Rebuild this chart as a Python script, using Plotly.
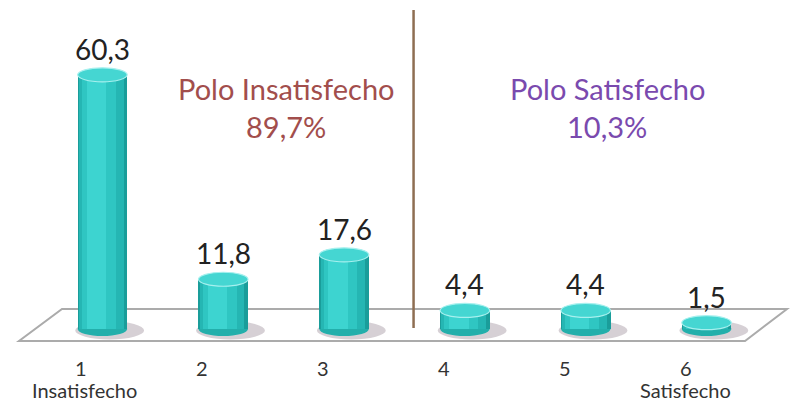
import plotly.graph_objects as go

categories = [1, 2, 3, 4, 5, 6]
values = [60.3, 11.8, 17.6, 4.4, 4.4, 1.5]
tick_labels = ["1", "2", "3", "4", "5", "6"]
extreme_labels = {1: "Insatisfecho", 6: "Satisfecho"}
pole_titles = ["Polo Insatisfecho", "Polo Satisfecho"]
pole_values = ["89,7%", "10,3%"]
divider_x = 3.575

FONT = "Lato"
W_PX, H_PX = 792, 404
L, R, T, B = 42, 25, 10, 41
PW = W_PX - L - R
PH = H_PX - T - B
Y_RANGE = [-8.07, 75.68]
ky = PH / (Y_RANGE[1] - Y_RANGE[0])  # px per unit


def px_x(px):
    return (px - L) / PW


def px_y(py):
    return (H_PX - B - py) / PH


bw = 0.41
eh = 7 / ky  # ellipse half-height in data units

fig = go.Figure()

layers = [
    (bw, 0.0, "#1A9D9A"),
    (0.37, -0.01, "#25B6B3"),
    (0.28, -0.03, "#2FC6C2"),
    (0.16, -0.05, "#3DD4D0"),
]
for w, s, c in layers:
    fig.add_trace(go.Bar(
        x=categories, y=values, width=[w] * len(values), offset=[s - w / 2] * len(values),
        marker=dict(color=c, line=dict(width=0)), hoverinfo="skip", showlegend=False,
    ))

shapes = []
# floor
fx = [62, 787, 745, 19]
fy = [309, 309, 341, 341]
path = "M " + " L ".join(f"{px_x(a):.4f},{px_y(b):.4f}" for a, b in zip(fx, fy)) + " Z"
shapes.append(dict(type="path", xref="paper", yref="paper", path=path,
                   fillcolor="#FFFFFF", line=dict(color="#ABABAB", width=2), layer="below"))

for x, v in zip(categories, values):
    # shadow
    shapes.append(dict(type="circle", xref="x", yref="y", layer="below",
                       x0=x - bw / 2 - 0.02, x1=x + bw / 2 + 0.14, y0=-eh * 1.5, y1=eh * 1.1,
                       fillcolor="rgba(120,100,115,0.30)", line=dict(width=0)))
    # bottom ellipse
    shapes.append(dict(type="circle", xref="x", yref="y", layer="below",
                       x0=x - bw / 2, x1=x + bw / 2, y0=-eh, y1=eh,
                       fillcolor="#23AFAB", line=dict(width=0)))
    # top ellipse
    shapes.append(dict(type="circle", xref="x", yref="y", layer="above",
                       x0=x - bw / 2, x1=x + bw / 2, y0=v - eh, y1=v + eh,
                       fillcolor="#45D6D2", line=dict(color="#A6F0EE", width=1.2)))

# divider
shapes.append(dict(type="line", xref="x", yref="paper", x0=divider_x, x1=divider_x,
                   y0=px_y(328), y1=px_y(10), line=dict(color="#8E6E52", width=2.5)))

annotations = []
for x, v in zip(categories, values):
    annotations.append(dict(x=x, y=v, xref="x", yref="y", yshift=26, showarrow=False,
                            text=f"{v:.1f}".replace(".", ","), yanchor="middle",
                            xanchor="center",
                            font=dict(family=FONT, size=28, color="#222222")))
for x, t in zip(categories, tick_labels):
    annotations.append(dict(x=x, y=px_y(368), xref="x", yref="paper", xshift=-21,
                            showarrow=False, text=t, yanchor="middle", xanchor="center",
                            font=dict(family=FONT, size=20, color="#333333")))
for x, t in extreme_labels.items():
    annotations.append(dict(x=x, y=px_y(390), xref="x", yref="paper",
                            xshift=-18 if x == 1 else -21,
                            showarrow=False, text=t, yanchor="middle", xanchor="center",
                            font=dict(family=FONT, size=20, color="#333333")))

pole_colors = ["#A24E4C", "#7A4AAE"]
pole_x = [286, 607]
for t, p, c, xx in zip(pole_titles, pole_values, pole_colors, pole_x):
    annotations.append(dict(x=px_x(xx), y=px_y(88), xref="paper", yref="paper", showarrow=False,
                            text=t, yanchor="middle", xanchor="center",
                            font=dict(family=FONT, size=29, color=c)))
    annotations.append(dict(x=px_x(xx), y=px_y(126), xref="paper", yref="paper", showarrow=False,
                            text=p, yanchor="middle", xanchor="center",
                            font=dict(family=FONT, size=29, color=c)))

fig.update_layout(
    width=W_PX, height=H_PX,
    margin=dict(l=L, r=R, t=T, b=B, pad=0),
    barmode="overlay", bargap=0,
    paper_bgcolor="#FFFFFF", plot_bgcolor="rgba(0,0,0,0)",
    xaxis=dict(range=[0.5, 6.5], visible=False, fixedrange=True),
    yaxis=dict(range=Y_RANGE, visible=False, fixedrange=True),
    shapes=shapes, annotations=annotations, showlegend=False,
)

fig.write_html("out.html", config={"displayModeBar": False},
               post_script="document.body.style.margin='0';document.body.style.padding='0';")
